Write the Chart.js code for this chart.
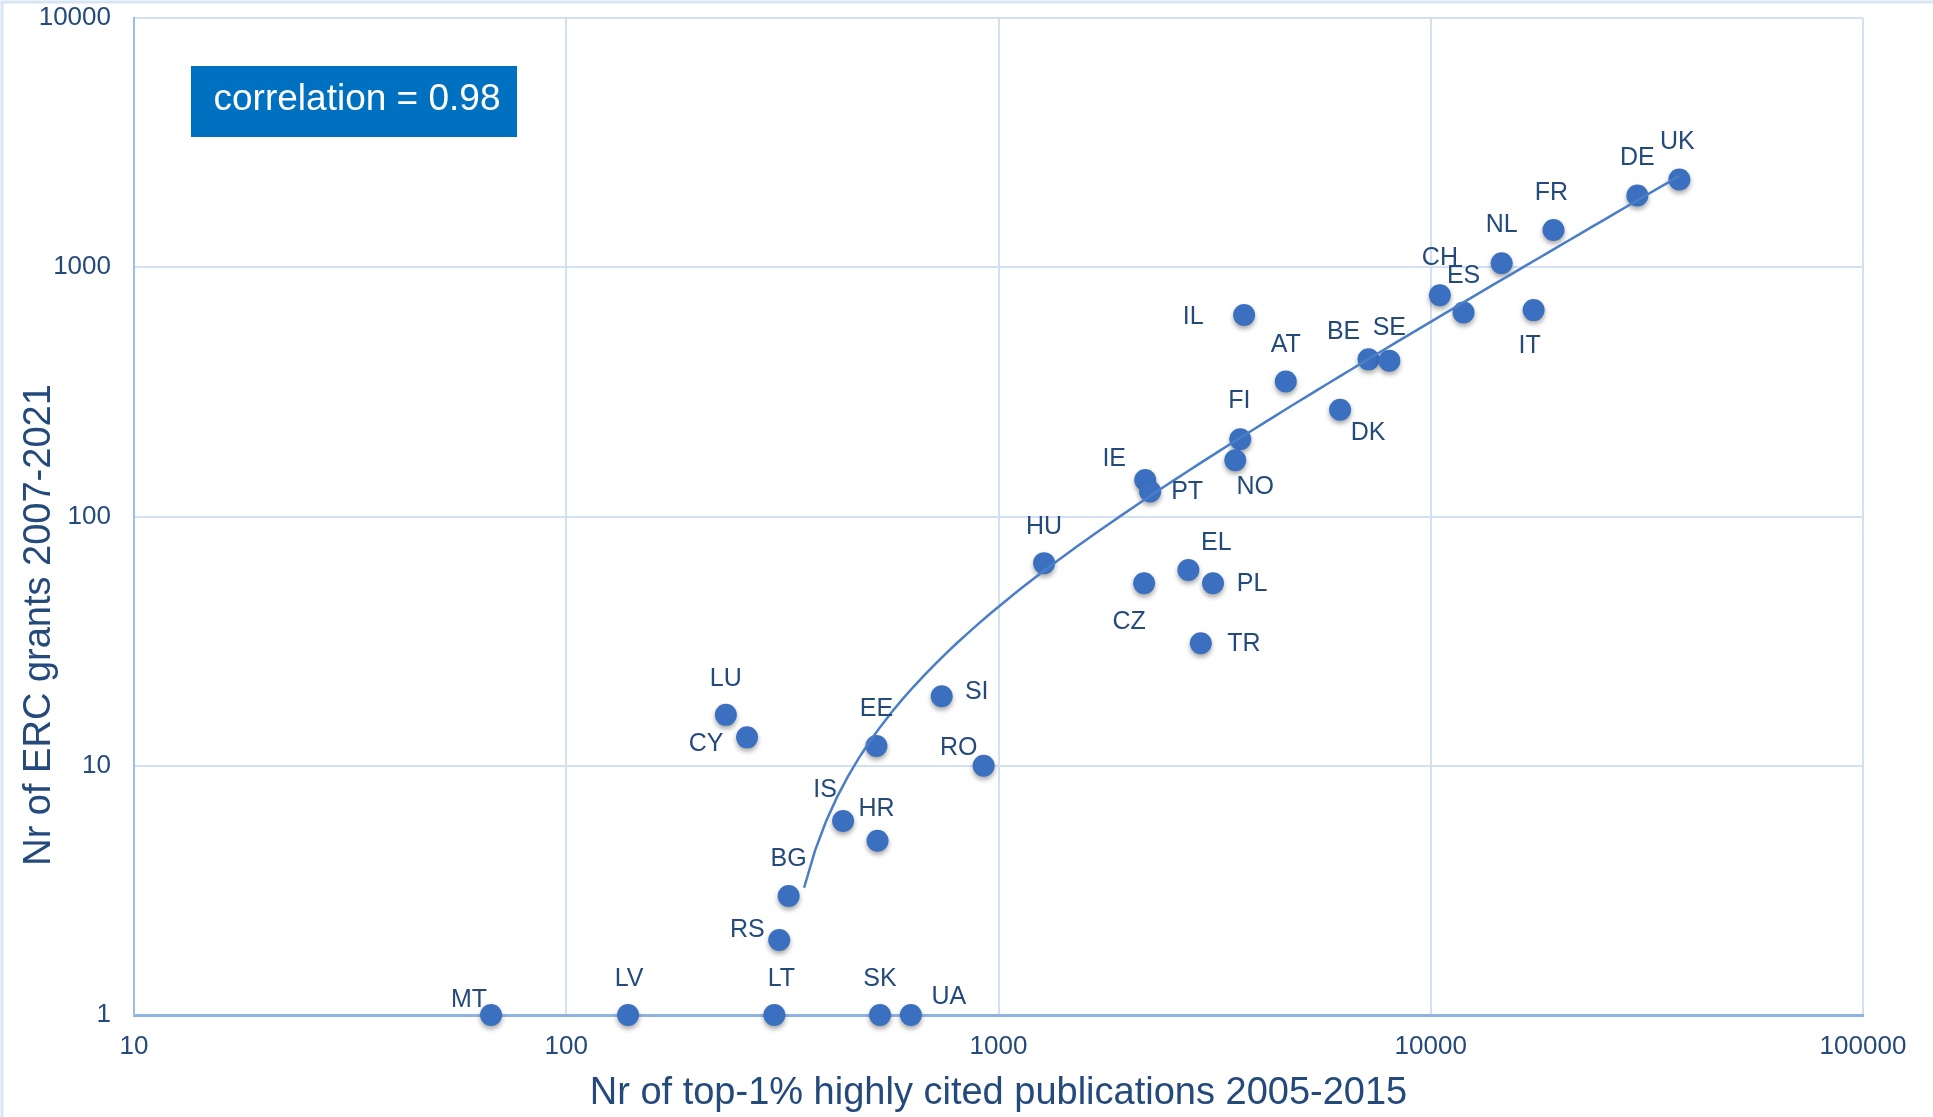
<!DOCTYPE html>
<html>
<head>
<meta charset="utf-8">
<script src="https://cdn.jsdelivr.net/npm/chart.js@4/dist/chart.umd.min.js"></script>
<style>
  html, body { margin: 0; padding: 0; background: #fff; }
  #wrap { width: 1933px; height: 1117px; position: relative; }
</style>
</head>
<body>
<div id="wrap"><canvas id="chart"></canvas></div>
<script>
// data
const countries = ['UK', 'DE', 'FR', 'NL', 'CH', 'ES', 'IT', 'IL', 'AT', 'BE', 'SE', 'DK', 'FI', 'NO',
    'IE', 'PT', 'HU', 'EL', 'PL', 'CZ', 'TR', 'SI', 'EE', 'RO', 'LU', 'CY', 'IS', 'HR', 'BG', 'RS',
    'MT', 'LV', 'LT', 'SK', 'UA'];
const publications = [37600, 30060, 19230, 14590, 10500, 11910, 17300, 3700, 4620, 7180, 8020, 6170, 3625, 3530,
    2185, 2243, 1275, 2750, 3135, 2172, 2938, 739, 522, 924, 234, 262, 437, 525, 327, 311,
    67, 139, 303, 532, 627];
const grants = [2250, 1941, 1412, 1038, 772, 658, 673, 643, 348, 427, 422, 268, 204, 168,
    140, 126, 65, 61, 54, 54, 31, 19, 12, 10, 16, 13, 6, 5, 3, 2,
    1, 1, 1, 1, 1];
const xTicks = [10, 100, 1000, 10000, 100000];
const yTicks = [1, 10, 100, 1000, 10000];
const correlationText = 'correlation = 0.98';
const trendFrom = 355; // where the drawn trend line starts

// label placement (px from point centre)
const labelOffsets = {
    UK: [-2, -37], DE: [0, -37], FR: [-2, -37], NL: [0, -38], CH: [0, -37], ES: [0, -36],
    IT: [-4, 36], IL: [-51, 2], AT: [0, -36], BE: [-25, -27], SE: [0, -33], DK: [28, 23],
    FI: [-1, -38], NO: [20, 27], IE: [-31, -21], PT: [37, 1], HU: [0, -36], EL: [28, -27],
    PL: [39, 1], CZ: [-15, 39], TR: [43, 1], SI: [35, -4], EE: [0, -37], RO: [-25, -18],
    LU: [0, -36], CY: [-41, 7], IS: [-18, -31], HR: [-1, -32], BG: [0, -37], RS: [-32, -10],
    MT: [-22, -15], LV: [1, -36], LT: [7, -36], SK: [0, -36], UA: [38, -18]
};

const TEXT = '#244a7c';
const DOT = '#3b70c0';
const FONT = 'Liberation Sans, Arial, sans-serif';

// linear least-squares trend (as the spreadsheet draws it on log axes)
const n = publications.length;
const mx = publications.reduce((a, b) => a + b, 0) / n;
const my = grants.reduce((a, b) => a + b, 0) / n;
let sxy = 0, sxx = 0;
publications.forEach((x, i) => { sxy += (x - mx) * (grants[i] - my); sxx += (x - mx) * (x - mx); });
const slope = sxy / sxx;
const intercept = my - slope * mx;
const xMax = Math.max(...publications);
const trendPoints = [];
for (let i = 0; i <= 80; i++) {
    const x = trendFrom * Math.pow(xMax / trendFrom, i / 80);
    trendPoints.push({ x: x, y: slope * x + intercept });
}

const scatterPoints = countries.map((c, i) => ({ x: publications[i], y: grants[i], label: c }));

const decorPlugin = {
    id: 'decor',
    beforeDraw(chart) {
        const ctx = chart.ctx;
        ctx.save();
        ctx.fillStyle = '#fff';
        ctx.fillRect(0, 0, chart.width, chart.height);
        ctx.strokeStyle = '#d9e5f4';
        ctx.lineWidth = 3;
        ctx.beginPath();
        ctx.moveTo(2, chart.height);
        ctx.lineTo(2, 2);
        ctx.lineTo(chart.width, 2);
        ctx.stroke();
        ctx.restore();
    },
    beforeDatasetDraw(chart, args) {
        if (args.index !== 1) return;
        const ctx = chart.ctx;
        ctx.save();
        ctx.shadowColor = 'rgba(0,0,0,0.35)';
        ctx.shadowBlur = 5;
        ctx.shadowOffsetY = 3;
    },
    afterDatasetDraw(chart, args) {
        if (args.index !== 1) return;
        chart.ctx.restore();
    },
    afterDraw(chart) {
        const ctx = chart.ctx;
        const meta = chart.getDatasetMeta(1);
        ctx.save();
        ctx.fillStyle = TEXT;
        ctx.font = '25px ' + FONT;
        ctx.textAlign = 'center';
        ctx.textBaseline = 'middle';
        meta.data.forEach((pt, i) => {
            const c = countries[i];
            const off = labelOffsets[c] || [0, -36];
            ctx.fillText(c, pt.x + off[0], pt.y + off[1]);
        });

        // y axis title
        ctx.save();
        ctx.translate(40, 625);
        ctx.rotate(-Math.PI / 2);
        ctx.font = '38px ' + FONT;
        ctx.fillText('Nr of ERC grants 2007-2021', 0, 0);
        ctx.restore();

        // correlation box
        ctx.fillStyle = '#0070c0';
        ctx.fillRect(191, 66, 326, 71);
        ctx.fillStyle = '#fff';
        ctx.font = '37px ' + FONT;
        ctx.fillText(correlationText, 357, 100);
        ctx.restore();
    }
};

new Chart(document.getElementById('chart'), {
    type: 'scatter',
    data: {
        datasets: [
            {
                type: 'line',
                label: 'trend',
                data: trendPoints,
                borderColor: '#4a7ec6',
                borderWidth: 2.5,
                pointRadius: 0,
                fill: false,
                tension: 0,
                order: 0
            },
            {
                label: 'countries',
                data: scatterPoints,
                backgroundColor: DOT,
                borderWidth: 0,
                pointRadius: 11,
                pointHoverRadius: 11,
                clip: false,
                order: 1
            }
        ]
    },
    options: {
        responsive: true,
        maintainAspectRatio: false,
        animation: false,
        layout: { autoPadding: false, padding: { top: 18, right: 70, left: 0, bottom: 0 } },
        plugins: {
            legend: { display: false },
            tooltip: { enabled: false }
        },
        scales: {
            x: {
                type: 'logarithmic',
                min: 10,
                max: 100000,
                afterBuildTicks: s => { s.ticks = xTicks.map(v => ({ value: v })); },
                afterFit: s => { s.height = 102; },
                ticks: {
                    callback: v => String(v),
                    color: TEXT,
                    font: { family: FONT, size: 26 },
                    padding: 16,
                    maxRotation: 0,
                    autoSkip: false
                },
                grid: { color: '#d3e0f2', lineWidth: 2, drawTicks: false },
                border: { color: '#8fb4e3', width: 3 },
                title: {
                    display: true,
                    text: 'Nr of top-1% highly cited publications 2005-2015',
                    color: TEXT,
                    font: { family: FONT, size: 38 },
                    padding: { top: 0, bottom: 1 }
                }
            },
            y: {
                type: 'logarithmic',
                min: 1,
                max: 10000,
                afterBuildTicks: s => { s.ticks = yTicks.map(v => ({ value: v })); },
                afterFit: s => { s.width = 134; s.paddingTop = 0; s.paddingBottom = 0; },
                ticks: {
                    callback: v => String(v),
                    color: TEXT,
                    font: { family: FONT, size: 26 },
                    padding: 23,
                    autoSkip: false
                },
                grid: { color: '#d3e0f2', lineWidth: 2, drawTicks: false },
                border: { color: '#9bbde6', width: 2 }
            }
        }
    },
    plugins: [decorPlugin]
});
</script>
</body>
</html>
